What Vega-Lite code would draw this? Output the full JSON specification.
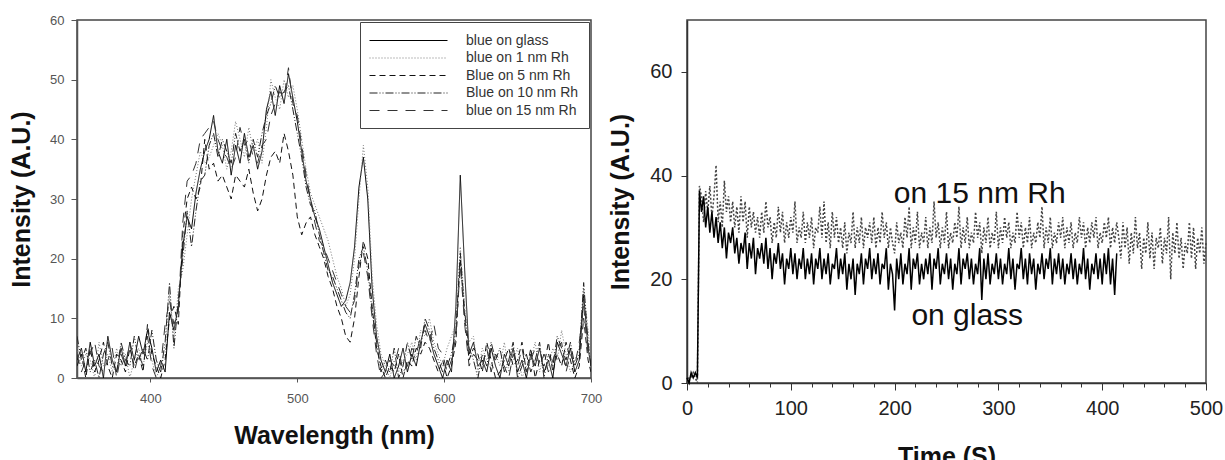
{
"$schema": "https://vega.github.io/schema/vega-lite/v6.json",
"padding": {"left": 8, "top": 13, "right": 0, "bottom": 0},
"autosize": {"type": "pad"},
"config": {"font": "Liberation Sans", "view": {"stroke": "#444", "strokeWidth": 1.5}},
"spacing": 5,
"resolve": {"scale": {"color": "independent", "strokeDash": "independent"}, "legend": {"color": "independent", "strokeDash": "independent"}},
"hconcat": [
{
"width": 514, "height": 358,
"data": {"values": [
{"w":350,"a":3,"b":5,"c":2,"d":7,"e":4},{"w":353,"a":5,"b":2,"c":4,"d":3,"e":1},{"w":356,"a":1,"b":4,"c":0,"d":5,"e":3},{"w":359,"a":6,"b":3,"c":5,"d":1,"e":4},{"w":362,"a":2,"b":0,"c":1,"d":3,"e":6},{"w":365,"a":4,"b":6,"c":3,"d":0,"e":2},{"w":368,"a":0,"b":2,"c":6,"d":4,"e":1},{"w":371,"a":7,"b":4,"c":2,"d":6,"e":3},{"w":374,"a":3,"b":1,"c":0,"d":2,"e":5},{"w":377,"a":1,"b":5,"c":4,"d":1,"e":0},{"w":380,"a":5,"b":2,"c":3,"d":6,"e":4},{"w":383,"a":2,"b":4,"c":1,"d":3,"e":2},{"w":386,"a":6,"b":0,"c":5,"d":2,"e":6},{"w":389,"a":3,"b":3,"c":2,"d":7,"e":1},{"w":392,"a":7,"b":5,"c":4,"d":3,"e":4},{"w":395,"a":4,"b":2,"c":1,"d":5,"e":2},{"w":398,"a":8,"b":6,"c":9,"d":3,"e":7},{"w":401,"a":5,"b":3,"c":4,"d":8,"e":2},{"w":404,"a":1,"b":0,"c":2,"d":3,"e":0},{"w":407,"a":3,"b":2,"c":0,"d":1,"e":2},{"w":410,"a":1,"b":4,"c":3,"d":6,"e":9},{"w":413,"a":11,"b":14,"c":10,"d":16,"e":13},{"w":416,"a":8,"b":6,"c":12,"d":5,"e":9},{"w":419,"a":12,"b":15,"c":9,"d":13,"e":11},{"w":422,"a":22,"b":18,"c":24,"d":20,"e":26},{"w":425,"a":27,"b":24,"c":30,"d":28,"e":33},{"w":428,"a":25,"b":30,"c":32,"d":22,"e":34},{"w":431,"a":31,"b":34,"c":30,"d":28,"e":36},{"w":434,"a":35,"b":38,"c":32,"d":33,"e":40},{"w":437,"a":38,"b":36,"c":40,"d":34,"e":41},{"w":440,"a":40,"b":37,"c":35,"d":39,"e":42},{"w":443,"a":44,"b":39,"c":36,"d":41,"e":43},{"w":446,"a":38,"b":41,"c":33,"d":37,"e":40},{"w":449,"a":36,"b":39,"c":34,"d":40,"e":38},{"w":452,"a":40,"b":35,"c":32,"d":38,"e":37},{"w":455,"a":34,"b":38,"c":30,"d":36,"e":35},{"w":458,"a":39,"b":43,"c":34,"d":41,"e":37},{"w":461,"a":36,"b":40,"c":33,"d":38,"e":42},{"w":464,"a":41,"b":37,"c":32,"d":40,"e":39},{"w":467,"a":37,"b":42,"c":35,"d":36,"e":40},{"w":470,"a":39,"b":38,"c":31,"d":40,"e":37},{"w":473,"a":35,"b":40,"c":28,"d":37,"e":36},{"w":476,"a":38,"b":36,"c":30,"d":41,"e":39},{"w":479,"a":45,"b":42,"c":34,"d":44,"e":40},{"w":482,"a":48,"b":50,"c":37,"d":46,"e":44},{"w":485,"a":44,"b":47,"c":38,"d":49,"e":46},{"w":488,"a":49,"b":45,"c":36,"d":47,"e":48},{"w":491,"a":46,"b":50,"c":41,"d":48,"e":47},{"w":494,"a":51,"b":47,"c":38,"d":49,"e":52},{"w":497,"a":47,"b":49,"c":34,"d":45,"e":46},{"w":500,"a":43,"b":45,"c":27,"d":41,"e":44},{"w":503,"a":38,"b":40,"c":24,"d":37,"e":39},{"w":506,"a":33,"b":35,"c":26,"d":32,"e":34},{"w":509,"a":30,"b":31,"c":27,"d":29,"e":30},{"w":512,"a":27,"b":29,"c":24,"d":28,"e":26},{"w":515,"a":25,"b":27,"c":22,"d":24,"e":23},{"w":518,"a":22,"b":25,"c":20,"d":21,"e":22},{"w":521,"a":19,"b":23,"c":17,"d":18,"e":20},{"w":524,"a":16,"b":20,"c":15,"d":17,"e":18},{"w":527,"a":14,"b":17,"c":12,"d":15,"e":16},{"w":530,"a":12,"b":15,"c":10,"d":13,"e":14},{"w":533,"a":13,"b":12,"c":7,"d":11,"e":12},{"w":536,"a":16,"b":14,"c":6,"d":10,"e":11},{"w":539,"a":22,"b":20,"c":10,"d":14,"e":13},{"w":542,"a":32,"b":30,"c":17,"d":20,"e":19},{"w":545,"a":37,"b":39,"c":23,"d":22,"e":21},{"w":548,"a":30,"b":32,"c":20,"d":18,"e":17},{"w":551,"a":15,"b":17,"c":12,"d":11,"e":10},{"w":554,"a":7,"b":9,"c":5,"d":6,"e":4},{"w":557,"a":3,"b":4,"c":2,"d":1,"e":0},{"w":560,"a":1,"b":2,"c":0,"d":3,"e":1},{"w":563,"a":4,"b":0,"c":2,"d":1,"e":3},{"w":566,"a":0,"b":3,"c":1,"d":5,"e":2},{"w":569,"a":2,"b":1,"c":4,"d":0,"e":5},{"w":572,"a":5,"b":3,"c":0,"d":2,"e":1},{"w":575,"a":1,"b":4,"c":3,"d":6,"e":2},{"w":578,"a":4,"b":6,"c":2,"d":3,"e":5},{"w":581,"a":2,"b":3,"c":5,"d":7,"e":4},{"w":584,"a":6,"b":8,"c":4,"d":5,"e":7},{"w":587,"a":9,"b":7,"c":6,"d":10,"e":8},{"w":590,"a":7,"b":10,"c":5,"d":8,"e":6},{"w":593,"a":4,"b":6,"c":3,"d":5,"e":9},{"w":596,"a":2,"b":4,"c":1,"d":3,"e":5},{"w":599,"a":0,"b":2,"c":3,"d":1,"e":4},{"w":602,"a":3,"b":5,"c":0,"d":2,"e":1},{"w":605,"a":1,"b":7,"c":2,"d":4,"e":3},{"w":608,"a":12,"b":9,"c":6,"d":8,"e":7},{"w":611,"a":34,"b":22,"c":20,"d":21,"e":19},{"w":614,"a":18,"b":12,"c":10,"d":11,"e":9},{"w":617,"a":4,"b":6,"c":3,"d":5,"e":2},{"w":620,"a":6,"b":7,"c":5,"d":3,"e":4},{"w":623,"a":2,"b":1,"c":4,"d":0,"e":3},{"w":626,"a":3,"b":5,"c":1,"d":4,"e":2},{"w":629,"a":1,"b":3,"c":6,"d":2,"e":5},{"w":632,"a":5,"b":2,"c":3,"d":6,"e":1},{"w":635,"a":2,"b":4,"c":0,"d":3,"e":4},{"w":638,"a":0,"b":2,"c":1,"d":5,"e":3},{"w":641,"a":4,"b":6,"c":3,"d":1,"e":2},{"w":644,"a":2,"b":1,"c":5,"d":3,"e":0},{"w":647,"a":5,"b":3,"c":2,"d":6,"e":4},{"w":650,"a":1,"b":5,"c":3,"d":0,"e":2},{"w":653,"a":3,"b":0,"c":6,"d":2,"e":5},{"w":656,"a":0,"b":2,"c":1,"d":4,"e":1},{"w":659,"a":4,"b":3,"c":5,"d":1,"e":3},{"w":662,"a":2,"b":6,"c":0,"d":3,"e":5},{"w":665,"a":5,"b":1,"c":3,"d":6,"e":2},{"w":668,"a":1,"b":4,"c":2,"d":0,"e":4},{"w":671,"a":3,"b":2,"c":6,"d":4,"e":1},{"w":674,"a":0,"b":5,"c":1,"d":2,"e":3},{"w":677,"a":6,"b":3,"c":4,"d":7,"e":5},{"w":680,"a":4,"b":8,"c":2,"d":5,"e":6},{"w":683,"a":2,"b":4,"c":6,"d":3,"e":1},{"w":686,"a":5,"b":1,"c":3,"d":6,"e":4},{"w":689,"a":1,"b":3,"c":0,"d":2,"e":2},{"w":692,"a":3,"b":5,"c":2,"d":4,"e":6},{"w":695,"a":14,"b":15,"c":10,"d":16,"e":12},{"w":698,"a":5,"b":8,"c":3,"d":6,"e":4},{"w":700,"a":2,"b":3,"c":1,"d":2,"e":3}
]},
"transform": [{"fold": ["a","b","c","d","e"], "as": ["key","v"]}],
"mark": {"type": "line", "strokeWidth": 1, "clip": true},
"encoding": {
"x": {"field": "w", "type": "quantitative", "scale": {"domain": [350,700], "nice": false, "zero": false},
 "axis": {"title": "Wavelength (nm)", "values": [400,500,600,700], "grid": false, "labelFlush": false, "domainColor": "#555", "domainWidth": 1.5, "tickColor": "#555", "tickSize": 4, "labelFontSize": 13, "labelColor": "#555", "labelPadding": 10, "titleFontSize": 25, "titleFontWeight": "bold", "titleColor": "#111", "titlePadding": 18}},
"y": {"field": "v", "type": "quantitative", "scale": {"domain": [0,60], "nice": false},
 "axis": {"title": "Intensity (A.U.)", "values": [0,10,20,30,40,50,60], "grid": false, "labelFlush": false, "domainColor": "#555", "domainWidth": 1.5, "tickColor": "#555", "tickSize": 6, "labelFontSize": 13, "labelColor": "#555", "labelPadding": 7, "titleFontSize": 25, "titleFontWeight": "bold", "titleColor": "#111", "titlePadding": 15}},
"strokeDash": {"field": "key", "type": "nominal", "scale": {"domain": ["a","b","c","d","e"], "range": [[1,0],[1,2],[6,4],[8,2,1,2,1,2],[10,8]]},
 "legend": {"title": null, "orient": "top-right", "offset": 2, "strokeColor": "#444", "fillColor": "white", "padding": 10, "symbolType": "M-1.2,0H9.2", "symbolSize": 225, "symbolStrokeWidth": 1.2, "labelFontSize": 14, "labelColor": "#333", "labelOffset": 79, "rowPadding": 1.5,
 "labelExpr": "{'a':'blue on glass','b':'blue on 1 nm Rh','c':'Blue on 5 nm Rh','d':'Blue on 10 nm Rh','e':'blue on 15 nm Rh'}[datum.value]"}},
"color": {"field": "key", "type": "nominal", "scale": {"domain": ["a","b","c","d","e"], "range": ["#000","#777","#111","#222","#333"]},
 "legend": {"title": null, "orient": "top-right", "offset": 2, "strokeColor": "#444", "fillColor": "white", "padding": 10, "symbolType": "M-1.2,0H9.2", "symbolSize": 225, "symbolStrokeWidth": 1.2, "labelFontSize": 14, "labelColor": "#333", "labelOffset": 79, "rowPadding": 1.5,
 "labelExpr": "{'a':'blue on glass','b':'blue on 1 nm Rh','c':'Blue on 5 nm Rh','d':'Blue on 10 nm Rh','e':'blue on 15 nm Rh'}[datum.value]"}}
}
},
{
"width": 519, "height": 363,
"resolve": {"axis": {"x": "independent"}},
"layer": [
{
"data": {"values": [
{"t":0,"g":1,"r":0},{"t":2,"g":0,"r":1},{"t":4,"g":2,"r":1},{"t":6,"g":1,"r":2},{"t":8,"g":2,"r":1},{"t":10,"g":1,"r":0},{"t":12,"g":37,"r":38},
{"t":14,"g":33,"r":36},{"t":16,"g":36,"r":31},{"t":18,"g":30,"r":37},{"t":20,"g":34,"r":33},{"t":22,"g":29,"r":38},{"t":24,"g":33,"r":32},{"t":26,"g":28,"r":36},{"t":28,"g":32,"r":42},{"t":30,"g":27,"r":31},{"t":32,"g":31,"r":35},
{"t":34,"g":26,"r":30},{"t":36,"g":30,"r":39},{"t":38,"g":24,"r":33},{"t":40,"g":29,"r":36},{"t":42,"g":27,"r":31},{"t":44,"g":30,"r":35},{"t":46,"g":25,"r":30},{"t":48,"g":28,"r":34},{"t":50,"g":23,"r":29},{"t":52,"g":27,"r":36},
{"t":54,"g":25,"r":31},{"t":56,"g":29,"r":35},{"t":58,"g":22,"r":28},{"t":60,"g":27,"r":34},{"t":62,"g":24,"r":30},{"t":64,"g":28,"r":33},{"t":66,"g":21,"r":29},{"t":68,"g":26,"r":32},{"t":70,"g":24,"r":28},{"t":72,"g":27,"r":33},
{"t":74,"g":23,"r":29},{"t":76,"g":28,"r":35},{"t":78,"g":22,"r":30},{"t":80,"g":26,"r":32},{"t":82,"g":20,"r":27},{"t":84,"g":25,"r":31},{"t":86,"g":23,"r":28},{"t":88,"g":27,"r":34},{"t":90,"g":22,"r":29},{"t":92,"g":25,"r":33},
{"t":94,"g":19,"r":27},{"t":96,"g":24,"r":31},{"t":98,"g":22,"r":28},{"t":100,"g":26,"r":32},{"t":102,"g":21,"r":29},{"t":104,"g":25,"r":35},{"t":106,"g":20,"r":27},{"t":108,"g":24,"r":30},{"t":110,"g":22,"r":28},{"t":112,"g":26,"r":33},
{"t":114,"g":20,"r":27},{"t":116,"g":24,"r":31},{"t":118,"g":21,"r":28},{"t":120,"g":25,"r":32},{"t":122,"g":19,"r":26},{"t":124,"g":24,"r":30},{"t":126,"g":22,"r":29},{"t":128,"g":26,"r":34},{"t":130,"g":20,"r":28},{"t":132,"g":24,"r":35},
{"t":134,"g":21,"r":27},{"t":136,"g":25,"r":31},{"t":138,"g":19,"r":26},{"t":140,"g":23,"r":33},{"t":142,"g":22,"r":28},{"t":144,"g":26,"r":32},{"t":146,"g":20,"r":27},{"t":148,"g":24,"r":30},{"t":150,"g":21,"r":26},{"t":152,"g":25,"r":31},
{"t":154,"g":18,"r":25},{"t":156,"g":23,"r":29},{"t":158,"g":20,"r":27},{"t":160,"g":24,"r":33},{"t":162,"g":17,"r":26},{"t":164,"g":23,"r":30},{"t":166,"g":21,"r":27},{"t":168,"g":25,"r":32},{"t":170,"g":19,"r":26},{"t":172,"g":24,"r":30},
{"t":174,"g":22,"r":28},{"t":176,"g":26,"r":31},{"t":178,"g":20,"r":27},{"t":180,"g":24,"r":32},{"t":182,"g":21,"r":26},{"t":184,"g":25,"r":30},{"t":186,"g":19,"r":27},{"t":188,"g":23,"r":33},{"t":190,"g":22,"r":28},{"t":192,"g":26,"r":31},
{"t":194,"g":18,"r":26},{"t":196,"g":23,"r":30},{"t":198,"g":21,"r":27},{"t":200,"g":14,"r":25},{"t":202,"g":24,"r":31},{"t":204,"g":20,"r":27},{"t":206,"g":25,"r":29},{"t":208,"g":19,"r":26},{"t":210,"g":23,"r":32},{"t":212,"g":21,"r":28},
{"t":214,"g":26,"r":34},{"t":216,"g":18,"r":26},{"t":218,"g":24,"r":30},{"t":220,"g":22,"r":27},{"t":222,"g":25,"r":33},{"t":224,"g":19,"r":26},{"t":226,"g":23,"r":29},{"t":228,"g":20,"r":27},{"t":230,"g":24,"r":32},{"t":232,"g":21,"r":26},
{"t":234,"g":25,"r":30},{"t":236,"g":18,"r":27},{"t":238,"g":24,"r":35},{"t":240,"g":22,"r":28},{"t":242,"g":26,"r":31},{"t":244,"g":19,"r":26},{"t":246,"g":23,"r":30},{"t":248,"g":21,"r":27},{"t":250,"g":25,"r":33},{"t":252,"g":20,"r":26},
{"t":254,"g":24,"r":29},{"t":256,"g":18,"r":27},{"t":258,"g":23,"r":31},{"t":260,"g":21,"r":28},{"t":262,"g":26,"r":34},{"t":264,"g":19,"r":26},{"t":266,"g":24,"r":30},{"t":268,"g":22,"r":27},{"t":270,"g":25,"r":32},{"t":272,"g":20,"r":26},
{"t":274,"g":24,"r":29},{"t":276,"g":19,"r":27},{"t":278,"g":23,"r":33},{"t":280,"g":21,"r":28},{"t":282,"g":26,"r":31},{"t":284,"g":16,"r":25},{"t":286,"g":24,"r":30},{"t":288,"g":20,"r":27},{"t":290,"g":25,"r":32},{"t":292,"g":19,"r":26},
{"t":294,"g":23,"r":29},{"t":296,"g":21,"r":27},{"t":298,"g":25,"r":33},{"t":300,"g":20,"r":26},{"t":302,"g":24,"r":30},{"t":304,"g":19,"r":27},{"t":306,"g":23,"r":32},{"t":308,"g":21,"r":28},{"t":310,"g":26,"r":31},{"t":312,"g":20,"r":26},
{"t":314,"g":24,"r":29},{"t":316,"g":18,"r":27},{"t":318,"g":23,"r":33},{"t":320,"g":22,"r":28},{"t":322,"g":26,"r":31},{"t":324,"g":20,"r":26},{"t":326,"g":24,"r":30},{"t":328,"g":19,"r":27},{"t":330,"g":25,"r":32},{"t":332,"g":21,"r":26},
{"t":334,"g":24,"r":29},{"t":336,"g":18,"r":27},{"t":338,"g":23,"r":31},{"t":340,"g":21,"r":28},{"t":342,"g":25,"r":34},{"t":344,"g":20,"r":26},{"t":346,"g":24,"r":30},{"t":348,"g":22,"r":27},{"t":350,"g":26,"r":32},{"t":352,"g":19,"r":26},
{"t":354,"g":24,"r":29},{"t":356,"g":21,"r":27},{"t":358,"g":25,"r":31},{"t":360,"g":20,"r":28},{"t":362,"g":24,"r":32},{"t":364,"g":19,"r":26},{"t":366,"g":23,"r":30},{"t":368,"g":21,"r":27},{"t":370,"g":25,"r":31},{"t":372,"g":20,"r":26},
{"t":374,"g":24,"r":29},{"t":376,"g":19,"r":27},{"t":378,"g":23,"r":32},{"t":380,"g":21,"r":28},{"t":382,"g":26,"r":31},{"t":384,"g":20,"r":26},{"t":386,"g":24,"r":30},{"t":388,"g":18,"r":27},{"t":390,"g":23,"r":31},{"t":392,"g":21,"r":28},
{"t":394,"g":25,"r":32},{"t":396,"g":20,"r":26},{"t":398,"g":24,"r":29},{"t":400,"g":19,"r":27},{"t":402,"g":25,"r":31},{"t":404,"g":21,"r":28},{"t":406,"g":26,"r":32},{"t":408,"g":19,"r":26},{"t":410,"g":24,"r":30},{"t":412,"g":17,"r":27},
{"t":414,"g":25,"r":31},{"t":416,"r":28},{"t":418,"r":24},{"t":420,"r":31},{"t":422,"r":26},{"t":424,"r":30},{"t":426,"r":23},{"t":428,"r":29},{"t":430,"r":25},{"t":432,"r":32},{"t":434,"r":26},{"t":436,"r":29},{"t":438,"r":22},
{"t":440,"r":28},{"t":442,"r":25},{"t":444,"r":31},{"t":446,"r":24},{"t":448,"r":29},{"t":450,"r":22},{"t":452,"r":28},{"t":454,"r":26},{"t":456,"r":30},{"t":458,"r":23},{"t":460,"r":28},{"t":462,"r":25},{"t":464,"r":32},{"t":466,"r":20},
{"t":468,"r":29},{"t":470,"r":25},{"t":472,"r":31},{"t":474,"r":24},{"t":476,"r":28},{"t":478,"r":22},{"t":480,"r":27},{"t":482,"r":25},{"t":484,"r":31},{"t":486,"r":24},{"t":488,"r":30},{"t":490,"r":22},{"t":492,"r":28},{"t":494,"r":25},
{"t":496,"r":30},{"t":498,"r":23},{"t":500,"r":27}
]},
"transform": [{"fold": ["r","g"], "as": ["s","v"]}],
"mark": {"type": "line", "strokeWidth": 1.5},
"encoding": {
"x": {"field": "t", "type": "quantitative", "scale": {"domain": [0,500], "nice": false},
 "axis": {"orient": "bottom", "title": "Time (S)", "values": [0,100,200,300,400,500], "grid": false, "labelFlush": false, "domainColor": "#333", "domainWidth": 1.5, "tickColor": "#333", "tickSize": 7, "labelFontSize": 20, "labelColor": "#222", "labelPadding": 8, "titleFontSize": 25, "titleFontWeight": "bold", "titleColor": "#111", "titlePadding": 26}},
"y": {"field": "v", "type": "quantitative", "scale": {"domain": [0,70], "nice": false},
 "axis": {"title": "Intensity (A.U.)", "values": [0,20,40,60], "grid": false, "labelFlush": false, "domainColor": "#333", "domainWidth": 1.5, "tickColor": "#333", "tickSize": 6, "labelFontSize": 20, "labelColor": "#222", "labelPadding": 9, "titleFontSize": 25, "titleFontWeight": "bold", "titleColor": "#111", "titlePadding": 16}},
"strokeDash": {"field": "s", "type": "nominal", "scale": {"domain": ["r","g"], "range": [[2,2],[1,0]]}, "legend": null},
"color": {"field": "s", "type": "nominal", "scale": {"domain": ["r","g"], "range": ["#444","#000"]}, "legend": null}
}
},
{
"data": {"values": [
{"t": 282, "v": 34.7, "label": "on 15 nm Rh"},
{"t": 270, "v": 11.2, "label": "on glass"}
]},
"mark": {"type": "text", "fontSize": 30, "baseline": "alphabetic", "align": "center", "color": "#111"},
"encoding": {
"x": {"field": "t", "type": "quantitative",
 "axis": {"orient": "bottom", "title": null, "values": [20,40,60,80,120,140,160,180,220,240,260,280,320,340,360,380,420,440,460,480], "labels": false, "domain": false, "grid": false, "tickColor": "#333", "tickSize": 4}},
"y": {"field": "v", "type": "quantitative"},
"text": {"field": "label"}
}
}
]
}
]
}
